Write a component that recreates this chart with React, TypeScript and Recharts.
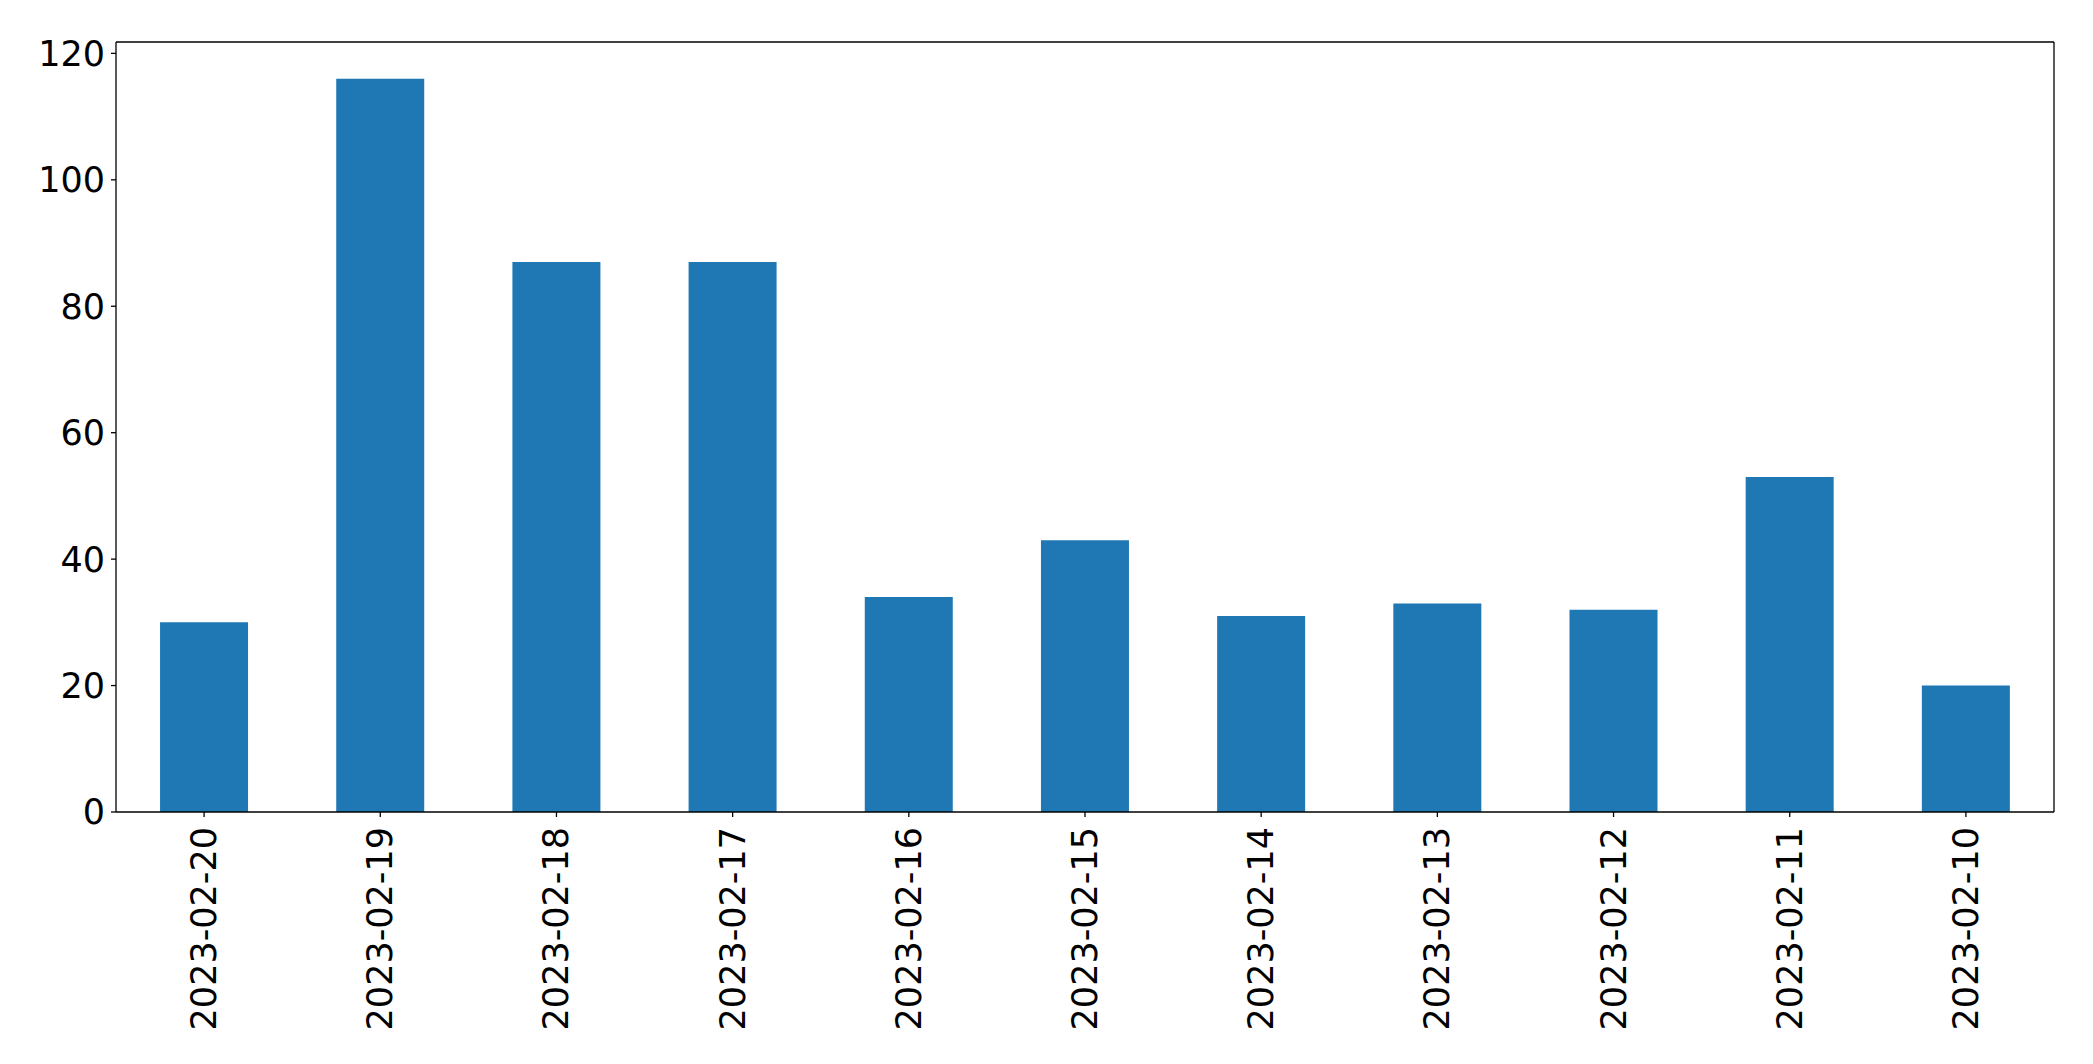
import React from 'react';
import { BarChart, Bar, XAxis, YAxis } from 'recharts';

const dates = [
  '2023-02-20', '2023-02-19', '2023-02-18', '2023-02-17', '2023-02-16', '2023-02-15',
  '2023-02-14', '2023-02-13', '2023-02-12', '2023-02-11', '2023-02-10',
];
const counts = [30, 116, 87, 87, 34, 43, 31, 33, 32, 53, 20];
const yTicks = [0, 20, 40, 60, 80, 100, 120];

const data = dates.map((date, i) => ({ date, count: counts[i] }));

const FONT = 'DejaVu Sans';

function DateTick({ x, y, payload }: any) {
  return (
    <g transform={`translate(${x},${y})`}>
      <text
        transform="rotate(-90)"
        textAnchor="end"
        dominantBaseline="central"
        fontFamily={FONT}
        fontSize={35}
        fill="#000"
      >
        {payload.value}
      </text>
    </g>
  );
}

export default function App() {
  return (
    <div style={{ position: 'absolute', left: 0, top: 0, width: 2093, height: 1064, background: '#fff' }}>
      <BarChart
        width={2093}
        height={1064}
        data={data}
        margin={{ top: 41, right: 38, bottom: 0, left: 0 }}
        barCategoryGap="25%"
      >
        <XAxis
          dataKey="date"
          height={252}
          interval={0}
          tickSize={5}
          tickMargin={10}
          stroke="#000"
          axisLine={{ stroke: '#000', strokeWidth: 1.3 }}
          tickLine={{ stroke: '#000', strokeWidth: 1.3 }}
          tick={<DateTick />}
        />
        {/* top and right axes only draw the frame */}
        <XAxis
          xAxisId="top"
          dataKey="date"
          orientation="top"
          height={1}
          tick={false}
          tickLine={false}
          axisLine={{ stroke: '#000', strokeWidth: 1.3 }}
        />
        <YAxis
          width={116}
          domain={[0, 121.8]}
          ticks={yTicks}
          interval={0}
          tickSize={5}
          tickMargin={6}
          axisLine={{ stroke: '#000', strokeWidth: 1.3 }}
          tickLine={{ stroke: '#000', strokeWidth: 1.3 }}
          tick={{ fill: '#000', fontSize: 35, fontFamily: FONT }}
        />
        <YAxis
          yAxisId="right"
          orientation="right"
          width={1}
          domain={[0, 121.8]}
          tick={false}
          tickLine={false}
          axisLine={{ stroke: '#000', strokeWidth: 1.3 }}
        />
        <Bar dataKey="count" fill="#1f77b4" isAnimationActive={false} />
        <Bar
          dataKey="count"
          xAxisId="top"
          yAxisId="right"
          fill="none"
          isAnimationActive={false}
        />
      </BarChart>
    </div>
  );
}
